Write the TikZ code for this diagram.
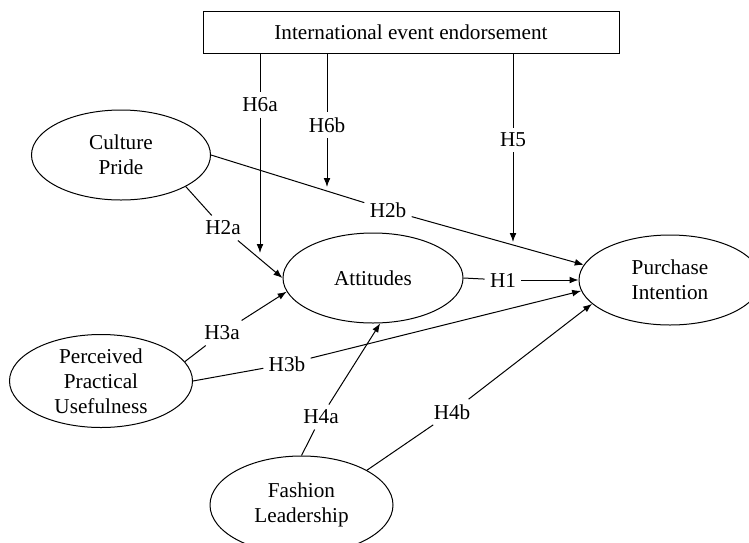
\documentclass[tikz,border=0pt]{standalone}
\usepackage{fontspec}
\setmainfont{Liberation Serif}
\usetikzlibrary{arrows.meta,shapes.geometric}

\begin{document}
\begin{tikzpicture}[x=0.5pt, y=-0.5pt, >={Latex[length=4.5pt,width=3.4pt]},
    every node/.style={font=\fontsize{10.6}{12.5}\selectfont},
    construct/.style={draw, ellipse, line width=0.5pt, inner sep=0pt, align=center},
    hyp/.style={inner sep=2.5pt},
    link/.style={line width=0.5pt}]
    \useasboundingbox (0,0) rectangle (749,542);
    \clip (0,0) rectangle (749,542);

    % constructs
    \node[draw, line width=0.5pt, minimum width=208pt, minimum height=21pt] (endorse) at (411,32) {International event endorsement};
    \node[construct, minimum width=89.5pt, minimum height=45pt] (pride) at (121,155) {Culture\\Pride};
    \node[construct, minimum width=90pt, minimum height=45pt] (att) at (373,278) {Attitudes};
    \node[construct, minimum width=91pt, minimum height=45pt] (pi) at (670,280) {Purchase\\Intention};
    \node[construct, minimum width=91.5pt, minimum height=46.5pt] (ppu) at (101,381) {Perceived\\Practical\\Usefulness};
    \node[construct, minimum width=91.5pt, minimum height=49pt] (fl) at (301.5,505) {Fashion\\Leadership};

    % hypotheses
    \node[hyp] (h6a) at (260,105) {H6a};
    \node[hyp] (h6b) at (327,125) {H6b};
    \node[hyp] (h5)  at (513,140) {H5};
    \node[hyp] (h2a) at (223,228) {H2a};
    \node[hyp] (h2b) at (388,210) {H2b};
    \node[hyp] (h1)  at (503,280) {H1};
    \node[hyp] (h3a) at (222,333) {H3a};
    \node[hyp] (h3b) at (287,364) {H3b};
    \node[hyp] (h4a) at (321,417) {H4a};
    \node[hyp] (h4b) at (452,412) {H4b};

    \coordinate (m6a) at (260,253);
    \coordinate (m6b) at (327,187);
    \coordinate (m5)  at (513,242);

    % moderation
    \foreach \h/\m in {h6a/m6a, h6b/m6b, h5/m5} {
        \draw[link] (\h |- endorse.south) -- (\h);
        \draw[link, ->] (\h) -- (\m);
    }

    % paths
    \foreach \s/\h/\t in {pride.-26/h2a/att.west, pride.east/h2b/pi.170, att.east/h1/pi.west,
                          ppu.13/h3a/att.189, ppu.east/h3b/pi.187, fl.north/h4a/att.279, fl.28/h4b/pi.197} {
        \draw[link] (\s) -- (\h);
        \draw[link, ->] (\h) -- (\t);
    }
\end{tikzpicture}
\end{document}
